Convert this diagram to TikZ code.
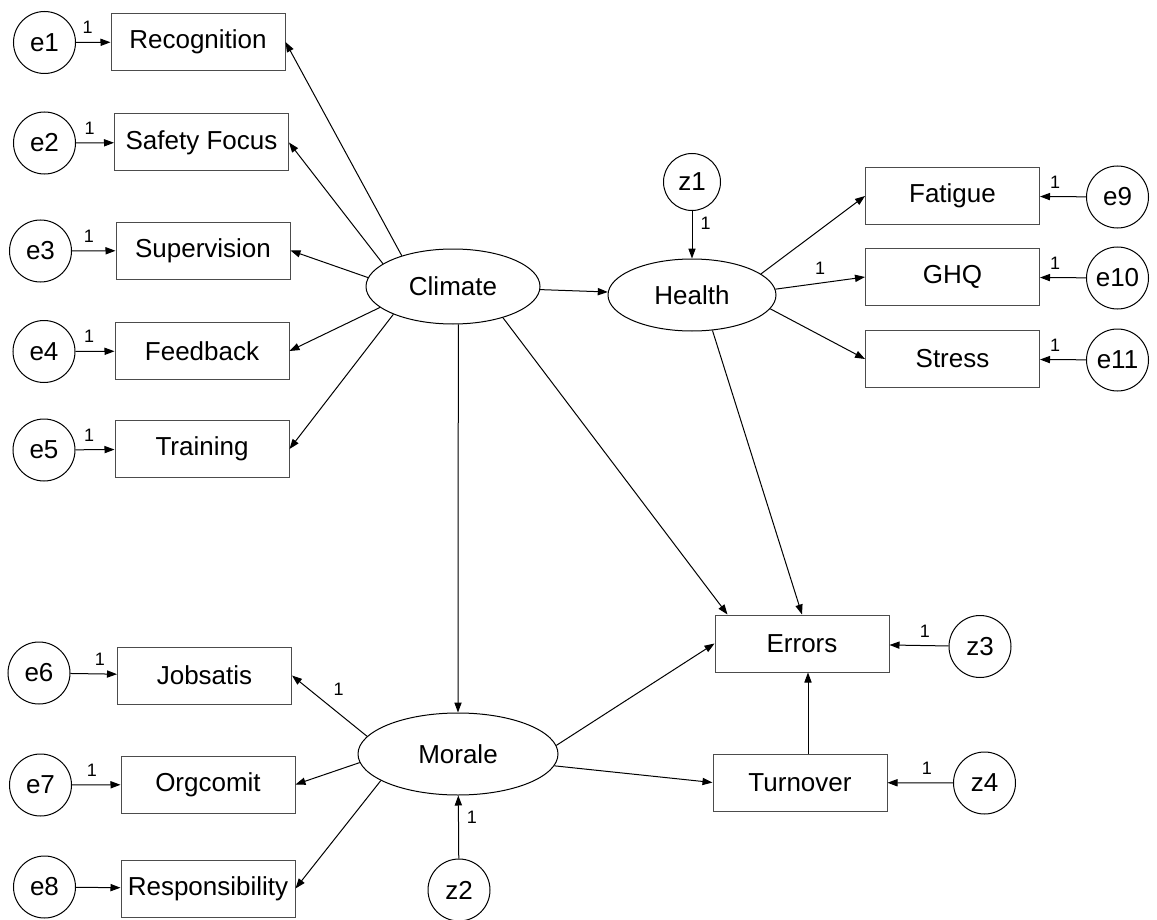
\documentclass[tikz,border=0pt]{standalone}
\usepackage{fontspec}
\setmainfont{Liberation Sans}
\usetikzlibrary{shapes.geometric,arrows.meta}

\begin{document}
\begin{tikzpicture}[x=0.5pt, y=-0.5pt, >={Triangle[length=5pt,width=3.6pt]}, line width=0.5pt]
\tikzset{
  box/.style={
    draw=black!70, rectangle,
    minimum width=87pt, minimum height=28.5pt,
    inner sep=0pt, font=\fontsize{13}{15}\selectfont
  },
  latent/.style={draw, ellipse, inner sep=0pt, font=\fontsize{13}{15}\selectfont},
  resid/.style={draw, circle, minimum size=31pt, inner sep=0pt, font=\fontsize{13}{15}\selectfont},
  one/.style={font=\fontsize{9}{10}\selectfont, inner sep=1.5pt}
}
\useasboundingbox (0,0) rectangle (1157,920);

% Climate indicators
\node[box] (rec)   at (198,42)    {Recognition};
\node[box] (safe)  at (201.5,142.5) {Safety Focus};
\node[box] (sup)   at (203,250.5) {Supervision};
\node[box] (feed)  at (202,351)   {Feedback};
\node[box] (train) at (202,449)   {Training};
\node[resid] (e1) at (44.5,42.5) {e1};
\node[resid] (e2) at (44.5,143)  {e2};
\node[resid] (e3) at (40.5,251)  {e3};
\node[resid] (e4) at (44,351.5)  {e4};
\node[resid] (e5) at (44,450)    {e5};

% Latent variables
\node[latent, minimum width=87pt, minimum height=37.5pt] (clim) at (453,286.5) {Climate};
\node[latent, minimum width=84pt, minimum height=36pt]   (hlth) at (692,295)   {Health};
\node[latent, minimum width=100pt, minimum height=41pt]  (mor)  at (458,754)   {Morale};
\node[resid, minimum size=28.5pt] (z1) at (692,182) {z1};
\node[resid] (z2) at (459,890) {z2};

% Health indicators
\node[box] (fat) at (952.5,196) {Fatigue};
\node[box] (ghq) at (952.5,277) {GHQ};
\node[box] (str) at (952.5,359) {Stress};
\node[resid] (e9)  at (1117.5,197) {e9};
\node[resid] (e10) at (1117.5,278) {e10};
\node[resid] (e11) at (1117.5,360) {e11};

% Morale indicators
\node[box] (job)  at (204.5,675.5) {Jobsatis};
\node[box] (org)  at (208,784.5)   {Orgcomit};
\node[box] (resp) at (208,888.5)   {Responsibility};
\node[resid] (e6) at (39,673)    {e6};
\node[resid] (e7) at (40.5,785)  {e7};
\node[resid] (e8) at (44.5,887)  {e8};

% Outcomes
\node[box] (err)  at (802,643.5) {Errors};
\node[box] (turn) at (800,782.5) {Turnover};
\node[resid] (z3) at (980,646.5) {z3};
\node[resid] (z4) at (984.5,783) {z4};

% Error terms
\draw[->] (e1) -- node[one, pos=.34, above=2.5pt]{1} (rec);
\draw[->] (e2) -- node[one, pos=.36, above=2.5pt]{1} (safe);
\draw[->] (e3) -- node[one, pos=.39, above=2.5pt]{1} (sup);
\draw[->] (e4) -- node[one, pos=.35, above=2.5pt]{1} (feed);
\draw[->] (e5) -- node[one, pos=.35, above=2.5pt]{1} (train);
\draw[->] (e6) -- node[one, pos=.63, above=2.5pt]{1} (job);
\draw[->] (e7) -- node[one, pos=.41, above=2.5pt]{1} (org);
\draw[->] (e8) -- (resp);
\draw[->] (e9)  -- node[one, pos=.67, above=2.5pt]{1} (fat);
\draw[->] (e10) -- node[one, pos=.67, above=2.5pt]{1} (ghq);
\draw[->] (e11) -- node[one, pos=.67, above=2.5pt]{1} (str);
\draw[->] (z1) -- node[one, pos=.25, right=2.5pt]{1} (hlth);
\draw[->] (z2) -- node[one, pos=.65, right=2.5pt]{1} (mor);
\draw[->] (z3) -- node[one, pos=.4, above=2.5pt]{1} (err);
\draw[->] (z4) -- node[one, pos=.4, above=2.5pt]{1} (turn);

% Loadings
\draw[->] (clim.149) -- (rec.east);
\draw[->] (clim.162) -- (safe.east);
\draw[->] (clim.174) -- (sup.east);
\draw[->] (clim.196) -- (feed.east);
\draw[->] (clim.205) -- (train.east);
\draw[->] (hlth.17) -- (fat.west);
\draw[->] (hlth.4) -- node[one, above=2.5pt]{1} (ghq.west);
\draw[->] (hlth.-10) -- (str.west);
\draw[->] (mor.169) -- node[one, pos=.38, above=7pt]{1} (job.east);
\draw[->] (mor.185) -- (org.east);
\draw[->] (mor.199) -- (resp.east);

% Structural paths
\draw[->] (clim) -- (hlth);
\draw[->] (clim.-82) -- (mor.north);
\draw[->] (clim.-32) -- ([xshift=6.5pt]err.north west);
\draw[->] (hlth.-60) -- (err.north);
\draw[->] (mor.5) -- (err.west);
\draw[->] (mor.-7) -- (turn.west);
\draw[->] ([xshift=4pt]turn.north) -- ([xshift=4pt]turn.north |- err.south);

\end{tikzpicture}
\end{document}
